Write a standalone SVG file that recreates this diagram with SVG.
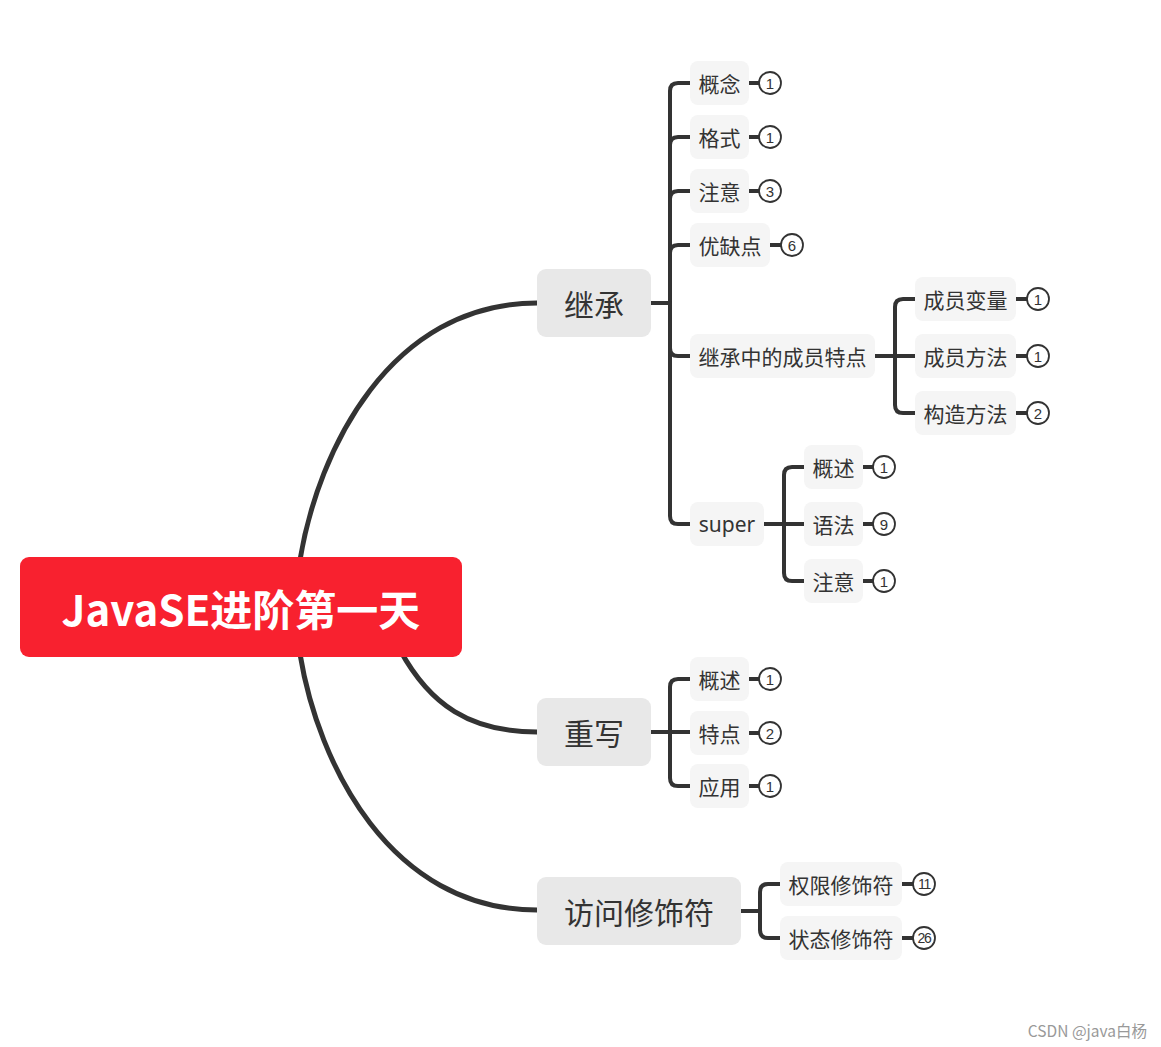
<svg xmlns="http://www.w3.org/2000/svg" width="1161" height="1047" viewBox="0 0 1161 1047">
<style>
.t{font-family:"Noto Sans CJK SC","Noto Sans",sans-serif;fill:#333;dominant-baseline:central;text-anchor:middle}
.l1 rect{fill:#e8e8e8}
.l1 text{font-size:30px}
.l2 rect{fill:#f5f5f5}
.l2 text{font-size:21px}
.b circle{fill:#fff;stroke:#333;stroke-width:1.8}
.b text{font-family:"Liberation Sans",Arial,sans-serif;font-size:15px;fill:#333;text-anchor:middle;dominant-baseline:central}
.b text.s{font-size:14px;letter-spacing:-1.2px}
.c path{fill:none;stroke:#333;stroke-linecap:round}
.main{stroke-width:5}
.br{stroke-width:4}
</style>
<rect width="1161" height="1047" fill="#fff"/>
<g id="connectors" class="c">
<path class="main" d="M300 560 C318 450 390 303 537 303"/>
<path class="main" d="M400 650 C430 705 470 732 537 732"/>
<path class="main" d="M300 654 C318 764 390 910 537 910"/>
<path class="br" d="M651 303 H670"/>
<path class="br" d="M670 303 V91 Q670 83 678 83 H690"/>
<path class="br" d="M670 303 V145 Q670 137 678 137 H690"/>
<path class="br" d="M670 303 V199 Q670 191 678 191 H690"/>
<path class="br" d="M670 303 V253 Q670 245 678 245 H690"/>
<path class="br" d="M670 303 V348 Q670 356 678 356 H690"/>
<path class="br" d="M670 303 V516 Q670 524 678 524 H690"/>
<path class="br" d="M875 356 H895"/>
<path class="br" d="M895 356 V307 Q895 299 903 299 H915"/>
<path class="br" d="M895 356 H915"/>
<path class="br" d="M895 356 V405 Q895 413 903 413 H915"/>
<path class="br" d="M764 524 H784"/>
<path class="br" d="M784 524 V475 Q784 467 792 467 H804"/>
<path class="br" d="M784 524 H804"/>
<path class="br" d="M784 524 V573 Q784 581 792 581 H804"/>
<path class="br" d="M651 732 H670"/>
<path class="br" d="M670 732 V687 Q670 679 678 679 H690"/>
<path class="br" d="M670 732 H690"/>
<path class="br" d="M670 732 V778 Q670 786 678 786 H690"/>
<path class="br" d="M741 911 H760"/>
<path class="br" d="M760 911 V892 Q760 884 768 884 H780"/>
<path class="br" d="M760 911 V930 Q760 938 768 938 H780"/>
<path class="br" d="M749 83 H759 M749 137 H759 M749 191 H759 M770 245 H781 M1016 299 H1027 M1016 356 H1027 M1016 413 H1027 M863 467 H873 M863 524 H873 M863 581 H873 M749 679 H759 M749 733 H759 M749 786 H759 M902 884 H913 M902 938 H913"/>
</g>
<g id="root">
<rect x="20" y="557" width="442" height="100" rx="9" fill="#f8212f"/>
<text class="t" x="241" y="607" style="font-size:42px;font-weight:bold;fill:#fff">JavaSE进阶第一天</text>
</g>
<g id="n-jicheng" class="l1"><rect x="537" y="269" width="114" height="68" rx="9"/><text class="t" x="594" y="303">继承</text></g>
<g id="n-chongxie" class="l1"><rect x="537" y="698" width="114" height="68" rx="9"/><text class="t" x="594" y="732">重写</text></g>
<g id="n-fangwen" class="l1"><rect x="537" y="877" width="204" height="68" rx="9"/><text class="t" x="639" y="911">访问修饰符</text></g>

<g id="n-gainian" class="l2"><rect x="690" y="61" width="59" height="44" rx="8"/><text class="t" x="719.5" y="83">概念</text></g>
<g id="n-geshi" class="l2"><rect x="690" y="115" width="59" height="44" rx="8"/><text class="t" x="719.5" y="137">格式</text></g>
<g id="n-zhuyi1" class="l2"><rect x="690" y="169" width="59" height="44" rx="8"/><text class="t" x="719.5" y="191">注意</text></g>
<g id="n-youque" class="l2"><rect x="690" y="223" width="80" height="44" rx="8"/><text class="t" x="730" y="245">优缺点</text></g>
<g id="n-chengyuan" class="l2"><rect x="690" y="334" width="185" height="44" rx="8"/><text class="t" x="782.5" y="356">继承中的成员特点</text></g>
<g id="n-super" class="l2"><rect x="690" y="502" width="74" height="44" rx="8"/><text class="t" x="727" y="524" style="font-family:'Noto Sans',sans-serif">super</text></g>
<g id="n-bianliang" class="l2"><rect x="915" y="277" width="101" height="44" rx="8"/><text class="t" x="965.5" y="299">成员变量</text></g>
<g id="n-fangfa" class="l2"><rect x="915" y="334" width="101" height="44" rx="8"/><text class="t" x="965.5" y="356">成员方法</text></g>
<g id="n-gouzao" class="l2"><rect x="915" y="391" width="101" height="44" rx="8"/><text class="t" x="965.5" y="413">构造方法</text></g>
<g id="n-gaishu1" class="l2"><rect x="804" y="445" width="59" height="44" rx="8"/><text class="t" x="833.5" y="467">概述</text></g>
<g id="n-yufa" class="l2"><rect x="804" y="502" width="59" height="44" rx="8"/><text class="t" x="833.5" y="524">语法</text></g>
<g id="n-zhuyi2" class="l2"><rect x="804" y="559" width="59" height="44" rx="8"/><text class="t" x="833.5" y="581">注意</text></g>
<g id="n-gaishu2" class="l2"><rect x="690" y="657" width="59" height="44" rx="8"/><text class="t" x="719.5" y="679">概述</text></g>
<g id="n-tedian" class="l2"><rect x="690" y="711" width="59" height="44" rx="8"/><text class="t" x="719.5" y="733">特点</text></g>
<g id="n-yingyong" class="l2"><rect x="690" y="764" width="59" height="44" rx="8"/><text class="t" x="719.5" y="786">应用</text></g>
<g id="n-quanxian" class="l2"><rect x="780" y="862" width="122" height="44" rx="8"/><text class="t" x="841" y="884">权限修饰符</text></g>
<g id="n-zhuangtai" class="l2"><rect x="780" y="916" width="122" height="44" rx="8"/><text class="t" x="841" y="938">状态修饰符</text></g>

<g id="badges" class="b">
<circle cx="770" cy="83" r="11"/><text x="770" y="83">1</text>
<circle cx="770" cy="137" r="11"/><text x="770" y="137">1</text>
<circle cx="770" cy="191" r="11"/><text x="770" y="191">3</text>
<circle cx="792" cy="245" r="11"/><text x="792" y="245">6</text>
<circle cx="1038" cy="299" r="11"/><text x="1038" y="299">1</text>
<circle cx="1038" cy="356" r="11"/><text x="1038" y="356">1</text>
<circle cx="1038" cy="413" r="11"/><text x="1038" y="413">2</text>
<circle cx="884" cy="467" r="11"/><text x="884" y="467">1</text>
<circle cx="884" cy="524" r="11"/><text x="884" y="524">9</text>
<circle cx="884" cy="581" r="11"/><text x="884" y="581">1</text>
<circle cx="770" cy="679" r="11"/><text x="770" y="679">1</text>
<circle cx="770" cy="733" r="11"/><text x="770" y="733">2</text>
<circle cx="770" cy="786" r="11"/><text x="770" y="786">1</text>
<circle cx="924" cy="884" r="11"/><text class="s" x="924" y="884">11</text>
<circle cx="924" cy="938" r="11"/><text class="s" x="924" y="938">26</text>
</g>
<text x="1147" y="1030" style="font-family:'Noto Sans CJK SC','Liberation Sans',sans-serif;font-size:15.5px;fill:#999;text-anchor:end;dominant-baseline:central">CSDN @java白杨</text>
</svg>
